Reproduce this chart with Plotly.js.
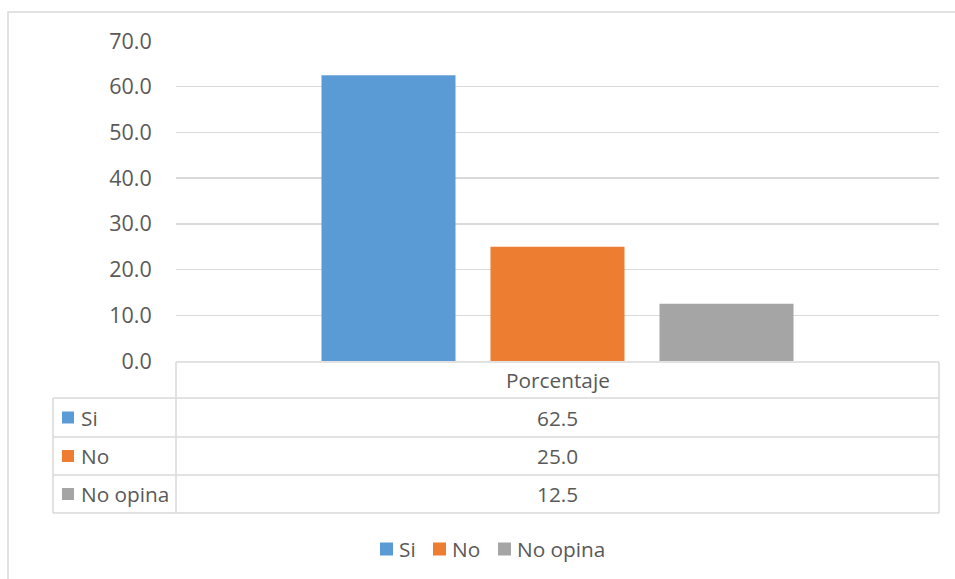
<!DOCTYPE html>
<html>
<head>
<meta charset="utf-8">
<script src="https://cdn.plot.ly/plotly-3.0.1.min.js"></script>
<style>html,body{margin:0;padding:0;background:#fff;}#chart{width:955px;height:579px;}</style>
</head>
<body>
<div id="chart"></div>
<script>
var categories = ["Porcentaje"];
var seriesNames = ["Si", "No", "No opina"];
var seriesValues = [62.5, 25.0, 12.5];
var seriesColors = ["#5B9BD5", "#ED7D31", "#A5A5A5"];
var yTicks = [0, 10, 20, 30, 40, 50, 60, 70];

var W = 955, H = 579, L = 176, R = 16, T = 41, B = 218;
var pw = W - L - R, ph = H - T - B;
function xp(px) { return (px - L) / pw; }
function yp(py) { return (H - B - py) / ph; }

var traces = seriesNames.map(function (n, i) {
  return { type: "bar", name: n, x: categories, y: [seriesValues[i]],
    marker: { color: seriesColors[i] }, hoverinfo: "none" };
});

var lineColor = "#D9D9D9";
var txtColor = "#595959";
var font = "Open Sans, sans-serif";
var fs = 20.8;
var shapes = [], annotations = [];
function hline(x0, x1, y) {
  shapes.push({ type: "line", xref: "paper", yref: "paper", x0: xp(x0), x1: xp(x1), y0: yp(y), y1: yp(y), line: { color: lineColor, width: 1.5 } });
}
function vline(x, y0, y1) {
  shapes.push({ type: "line", xref: "paper", yref: "paper", x0: xp(x), x1: xp(x), y0: yp(y0), y1: yp(y1), line: { color: lineColor, width: 1.5 } });
}
// outer chart border
shapes.push({ type: "rect", xref: "paper", yref: "paper", x0: xp(8), x1: xp(980), y0: yp(12), y1: yp(600), line: { color: lineColor, width: 1.5 }, fillcolor: "rgba(0,0,0,0)" });

// data table
var tLeft = 53, tMid = 176, tRight = 939;
var rowY = [362, 398, 437, 475, 513];
hline(tMid, tRight, rowY[0]);
for (var r = 1; r < rowY.length; r++) hline(tLeft, tRight, rowY[r]);
vline(tMid, rowY[0], rowY[4]);
vline(tRight, rowY[0], rowY[4]);
vline(tLeft, rowY[1], rowY[4]);

annotations.push({ xref: "paper", yref: "paper", x: xp((tMid + tRight) / 2), y: yp((rowY[0] + rowY[1]) / 2), text: categories[0], showarrow: false, xanchor: "center", yanchor: "middle", font: { family: font, size: fs, color: txtColor } });
for (var i = 0; i < seriesNames.length; i++) {
  var yc = (rowY[i + 1] + rowY[i + 2]) / 2;
  shapes.push({ type: "rect", xref: "paper", yref: "paper", x0: xp(62), x1: xp(74), y0: yp(yc - 6), y1: yp(yc + 6), line: { width: 0 }, fillcolor: seriesColors[i] });
  annotations.push({ xref: "paper", yref: "paper", x: xp(79), y: yp(yc), text: seriesNames[i], showarrow: false, xanchor: "left", yanchor: "middle", font: { family: font, size: fs, color: txtColor } });
  annotations.push({ xref: "paper", yref: "paper", x: xp((tMid + tRight) / 2), y: yp(yc), text: seriesValues[i].toFixed(1), showarrow: false, xanchor: "center", yanchor: "middle", font: { family: font, size: fs, color: txtColor } });
}

// legend
var legX = [380, 433, 498];
var legY = 549;
for (var k = 0; k < seriesNames.length; k++) {
  shapes.push({ type: "rect", xref: "paper", yref: "paper", x0: xp(legX[k]), x1: xp(legX[k] + 13), y0: yp(legY - 6.5), y1: yp(legY + 6.5), line: { width: 0 }, fillcolor: seriesColors[k] });
  annotations.push({ xref: "paper", yref: "paper", x: xp(legX[k] + 17), y: yp(legY), text: seriesNames[k], showarrow: false, xanchor: "left", yanchor: "middle", font: { family: font, size: fs, color: txtColor } });
}

var layout = {
  width: W, height: H,
  margin: { l: L, r: R, t: T, b: B, pad: 0 },
  paper_bgcolor: "#fff", plot_bgcolor: "#fff",
  barmode: "group", bargap: 0.3355, bargroupgap: 0.207,
  showlegend: false,
  xaxis: { showticklabels: false, showgrid: false, zeroline: false, showline: false, fixedrange: true },
  yaxis: { range: [0, 70], tickvals: yTicks, tickformat: ".1f", showgrid: true, gridcolor: lineColor, gridwidth: 1.5,
    zeroline: false, showline: false, ticks: "outside", ticklen: 19, tickcolor: "rgba(0,0,0,0)",
    tickfont: { family: font, size: 21.5, color: txtColor }, fixedrange: true },
  shapes: shapes, annotations: annotations
};
Plotly.newPlot("chart", traces, layout, { displayModeBar: false, staticPlot: true });
</script>
</body>
</html>
